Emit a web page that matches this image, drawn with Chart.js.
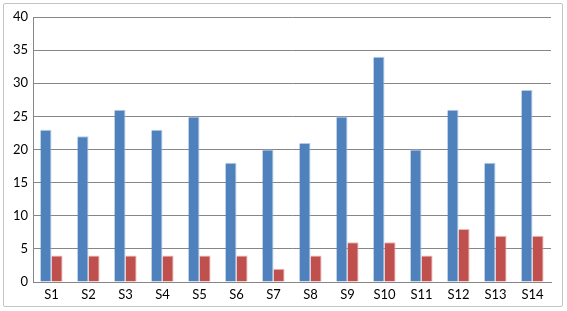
<!DOCTYPE html>
<html>
<head>
<meta charset="utf-8">
<script src="https://cdn.jsdelivr.net/npm/chart.js@4.4.0/dist/chart.umd.min.js"></script>
<style>
  body { margin: 0; background: #fff; }
  #wrap { position: relative; width: 567px; height: 311px; }
  #frame { position: absolute; left: 3px; top: 3px; width: 558px; height: 302px; border: 1px solid #c4c4c4; border-radius: 2px; }
  canvas { position: absolute; left: 0; top: 0; }
</style>
</head>
<body>
<div id="wrap">
  <div id="frame"></div>
  <canvas id="chart" width="567" height="311"></canvas>
</div>
<script>
const categories = ['S1', 'S2', 'S3', 'S4', 'S5', 'S6', 'S7', 'S8', 'S9', 'S10', 'S11', 'S12', 'S13', 'S14'];
const seriesA = [23, 22, 26, 23, 25, 18, 20, 21, 25, 34, 20, 26, 18, 29];
const seriesB = [4, 4, 4, 4, 4, 4, 2, 4, 6, 6, 4, 8, 7, 7];
const yMax = 40;
const yStep = 5;

const ctx = document.getElementById('chart').getContext('2d');

new Chart(ctx, {
    type: 'bar',
    data: {
        labels: categories,
        datasets: [{
            label: 'Series 1',
            data: seriesA,
            backgroundColor: '#4f81bd',
            borderColor: 'rgba(170, 195, 230, 0.9)',
            borderWidth: { top: 1, right: 1, left: 0, bottom: 0 },
            categoryPercentage: 0.6,
            barPercentage: 1.0
        }, {
            label: 'Series 2',
            data: seriesB,
            backgroundColor: '#c0504d',
            borderColor: 'rgba(235, 175, 175, 0.9)',
            borderWidth: { top: 1, right: 1, left: 0, bottom: 0 },
            categoryPercentage: 0.6,
            barPercentage: 1.0
        }]
    },
    options: {
        responsive: false,
        animation: false,
        layout: {
            padding: { left: 0, right: 16, top: 17, bottom: 0 }
        },
        plugins: {
            legend: { display: false },
            tooltip: { enabled: false }
        },
        scales: {
            x: {
                grid: { display: false, drawTicks: false },
                border: { display: true, color: '#868686', width: 1 },
                ticks: {
                    color: '#000',
                    padding: 5,
                    font: { family: 'Lato', size: 13 }
                },
                afterFit: (axis) => { axis.height = 29; }
            },
            y: {
                min: 0,
                max: yMax,
                grid: { color: '#868686', lineWidth: 1, drawTicks: false },
                border: { display: true, color: '#868686', width: 1 },
                ticks: {
                    stepSize: yStep,
                    color: '#000',
                    padding: 5,
                    font: { family: 'Lato', size: 13 }
                },
                afterFit: (axis) => { axis.width = 33; }
            }
        }
    }
});
</script>
</body>
</html>
